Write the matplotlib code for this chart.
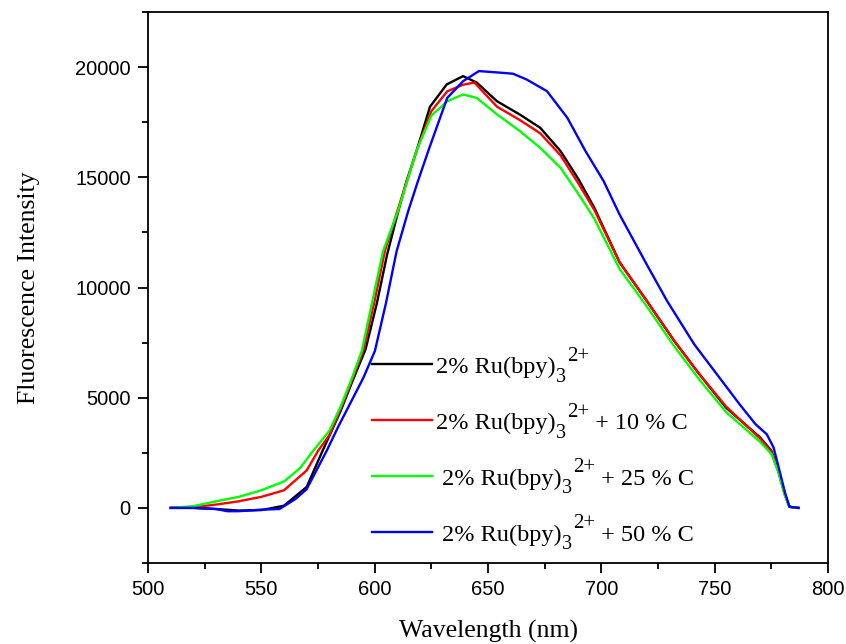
"""
Espectros de fluorescencia de Ru(bpy)3 2+ con distintos contenidos de C.
"""
import matplotlib
matplotlib.use("Agg")
import matplotlib.pyplot as plt
from matplotlib.lines import Line2D
from matplotlib.ticker import MultipleLocator

W, H = 846, 644

# ---- data (wavelength nm, intensity) ----
wl_black = [510, 520, 530, 540, 550, 560, 570, 577, 585, 590, 596, 601, 605.5, 610,
            614, 618.5, 624.4, 631.8, 639, 645, 654, 664, 673, 682, 690, 697, 708,
            720, 732, 743, 755, 770, 775, 778, 781, 783, 787]
int_black = [0, 0, -50, -120, -100, 100, 950, 2585, 4400, 5700, 7200, 9300, 11500,
             13300, 14800, 16200, 18200, 19215, 19590, 19300, 18450, 17850, 17250,
             16190, 14900, 13600, 11150, 9400, 7600, 6100, 4550, 3200, 2600, 1700,
             600, 50, 0]

wl_red = [510, 520, 530, 540, 550, 560, 570, 575, 580, 585, 590, 595, 600, 604.5, 610,
          618.4, 625, 632, 639, 644, 654, 664, 673, 682, 690, 697, 708, 720, 732, 743,
          755, 770, 775, 778, 781, 783, 787]
int_red = [0, 30, 150, 300, 500, 800, 1700, 2585, 3300, 4500, 5800, 7150, 9400, 11655,
           13470, 16190, 18000, 18900, 19200, 19300, 18200, 17600, 17000, 16000, 14700,
           13500, 11150, 9400, 7600, 6100, 4600, 3150, 2550, 1700, 600, 50, 0]

wl_green = [510, 520, 530, 540, 550, 560, 567, 572.8, 580, 585, 590, 594.3, 599, 603.7,
            610.3, 618.4, 625, 632, 639, 645, 654, 664, 673, 682, 691, 697, 708, 720,
            732, 743, 755, 770, 775, 778, 781, 783, 787]
int_green = [0, 80, 300, 500, 800, 1200, 1800, 2585, 3500, 4600, 5900, 7120, 9400,
             11655, 13470, 16190, 17800, 18450, 18760, 18600, 17850, 17100, 16340,
             15430, 14070, 13100, 10850, 9150, 7350, 5850, 4350, 3000, 2450, 1650, 550,
             50, 0]

wl_blue = [510, 520, 530, 535, 540, 550, 558, 565, 570, 578.8, 584, 590, 595, 600.1,
           605, 609.7, 614.8, 619, 624, 632, 639, 646, 655, 661, 667, 676, 685, 693,
           701, 708, 720, 729, 741, 751, 761, 768, 773, 776, 779, 781, 783, 787]
int_blue = [0, 0, -50, -150, -150, -80, -50, 400, 850, 2585, 3700, 4900, 5900, 7120,
            9300, 11655, 13470, 14800, 16300, 18600, 19360, 19820, 19750, 19700, 19440,
            18910, 17700, 16190, 14830, 13320, 11050, 9390, 7420, 6060, 4700, 3800,
            3340, 2735, 1530, 700, 50, 0]

series = [(wl_black, int_black), (wl_red, int_red), (wl_green, int_green), (wl_blue, int_blue)]
colors = ["black", "red", "#00ff00", "blue"]
tails = ["", " + 10 % C", " + 25 % C", " + 50 % C"]
indent = [0, 0, 6, 6]          # px, rows 3 and 4 start a bit further right

fig = plt.figure(figsize=(W / 100, H / 100), dpi=100)
ax = fig.add_axes([148 / W, 1 - 563 / H, 680 / W, 551 / H])

for (x, y), c in zip(series, colors):
    ax.plot(x, y, color=c, lw=1.7)

ax.set_xlim(500, 800)
ax.set_ylim(-2500, 22500)
ax.xaxis.set_major_locator(MultipleLocator(50))
ax.xaxis.set_minor_locator(MultipleLocator(25))
ax.yaxis.set_major_locator(MultipleLocator(5000))
ax.yaxis.set_minor_locator(MultipleLocator(2500))
ax.tick_params(which="both", direction="out", top=False, right=False, width=1.3)
ax.tick_params(which="major", length=7.5, labelsize=14.5, pad=5)
ax.tick_params(which="minor", length=4)
for lbl in ax.get_xticklabels() + ax.get_yticklabels():
    lbl.set_family("Liberation Sans")
for s in ax.spines.values():
    s.set_linewidth(1.3)

ax.set_xlabel("Wavelength (nm)", family="Liberation Serif", fontsize=18.5, labelpad=15)
ax.set_ylabel("Fluorescence Intensity", family="Liberation Serif", fontsize=18.5, labelpad=25)

# ---- hand-built legend: big sub/superscripts like the original ----
serif = dict(family="Liberation Serif", va="baseline", ha="left")
row_base = [373.3, 429.3, 485.0, 541.0]     # text baselines, px from top
row_line = [364.0, 419.5, 475.7, 531.7]     # handle centres, px from top
for i, c in enumerate(colors):
    fig.add_artist(Line2D([371.7 / W, 431.7 / W], [1 - row_line[i] / H] * 2,
                          color=c, lw=1.7))
    yb = 1 - row_base[i] / H
    t = fig.text((436.0 + indent[i]) / W, yb, "2% Ru(bpy)", fontsize=17.5, **serif)
    t = ax.annotate("3", xy=(1, yb), xycoords=(t, fig.transFigure), xytext=(0, -6),
                    textcoords="offset points", fontsize=14.5, annotation_clip=False, **serif)
    t = ax.annotate("2+", xy=(1, yb), xycoords=(t, fig.transFigure), xytext=(1, 9),
                    textcoords="offset points", fontsize=15, annotation_clip=False, **serif)
    if tails[i]:
        ax.annotate(tails[i], xy=(1, yb), xycoords=(t, fig.transFigure), xytext=(0, 0),
                    textcoords="offset points", fontsize=17.5, annotation_clip=False, **serif)

fig.savefig("out.png", dpi=100)
